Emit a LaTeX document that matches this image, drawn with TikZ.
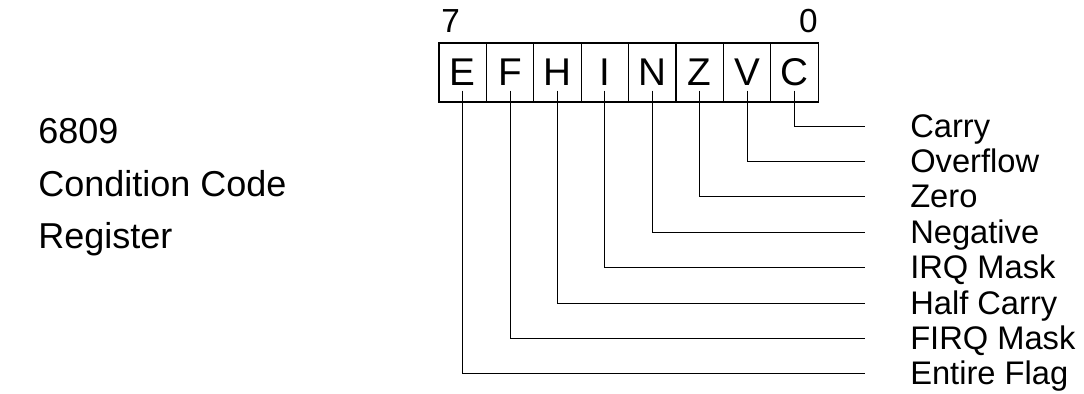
\documentclass[tikz,border=0pt]{standalone}
\usepackage{fontspec}
\setmainfont{Liberation Sans}
\tikzset{
    cell/.style={draw, line width=0.9pt, minimum width=35.55pt, minimum height=44.25pt, inner sep=0pt, font=\fontsize{29}{33}\selectfont},
    bitno/.style={inner sep=0pt, font=\fontsize{25}{29}\selectfont},
    flagname/.style={anchor=base west, inner sep=0pt, font=\fontsize{24.5}{28}\selectfont},
    regname/.style={anchor=base west, inner sep=0pt, font=\fontsize{27}{31}\selectfont},
    lead/.style={line width=0.75pt},
}
\begin{document}
\begin{tikzpicture}[x=0.75pt,y=0.75pt,yscale=-1,xscale=1]
        \useasboundingbox (0,0) rectangle (1084,393);
        % title
        \node[regname] (t1) at (38,143) {6809};
        \node[regname] (t2) at (38,196) {Condition Code};
        \node[regname] (t3) at (38,248) {Register};
        % register cells
        \node[cell] (E) at (462.7,72.5) {E};
        \node[cell] (F) at (510.1,72.5) {F};
        \node[cell] (H) at (557.5,72.5) {H};
        \node[cell] (I) at (604.9,72.5) {I};
        \node[cell] (N) at (652.3,72.5) {N};
        \node[cell] (Z) at (699.7,72.5) {Z};
        \node[cell] (V) at (747.1,72.5) {V};
        \node[cell] (C) at (794.5,72.5) {C};
        \node[bitno, anchor=base west] (b7) at (441,32) {7};
        \node[bitno, anchor=base east] (b0) at (818,32) {0};
        % flag names
        \node[flagname] (lC) at (910,137) {Carry};
        \node[flagname] (lV) at (910,172.4) {Overflow};
        \node[flagname] (lZ) at (910,207.8) {Zero};
        \node[flagname] (lN) at (910,243.2) {Negative};
        \node[flagname] (lI) at (910,278.6) {IRQ Mask};
        \node[flagname] (lH) at (910,314) {Half Carry};
        \node[flagname] (lF) at (910,349.4) {FIRQ Mask};
        \node[flagname] (lE) at (910,384.8) {Entire Flag};
        % line ends
        \coordinate (eC) at (865,126);
        \coordinate (eV) at (865,161.4);
        \coordinate (eZ) at (865,196.8);
        \coordinate (eN) at (865,232.2);
        \coordinate (eI) at (865,267.6);
        \coordinate (eH) at (865,303);
        \coordinate (eF) at (865,338.4);
        \coordinate (eE) at (865,373.8);
        \draw[lead] ([yshift=-9pt]C.south) |- (eC);
        \draw[lead] ([yshift=-9pt]V.south) |- (eV);
        \draw[lead] ([yshift=-9pt]Z.south) |- (eZ);
        \draw[lead] ([yshift=-9pt]N.south) |- (eN);
        \draw[lead] ([yshift=-9pt]I.south) |- (eI);
        \draw[lead] ([yshift=-9pt]H.south) |- (eH);
        \draw[lead] ([yshift=-9pt]F.south) |- (eF);
        \draw[lead] ([yshift=-9pt]E.south) |- (eE);
\end{tikzpicture}
\end{document}
